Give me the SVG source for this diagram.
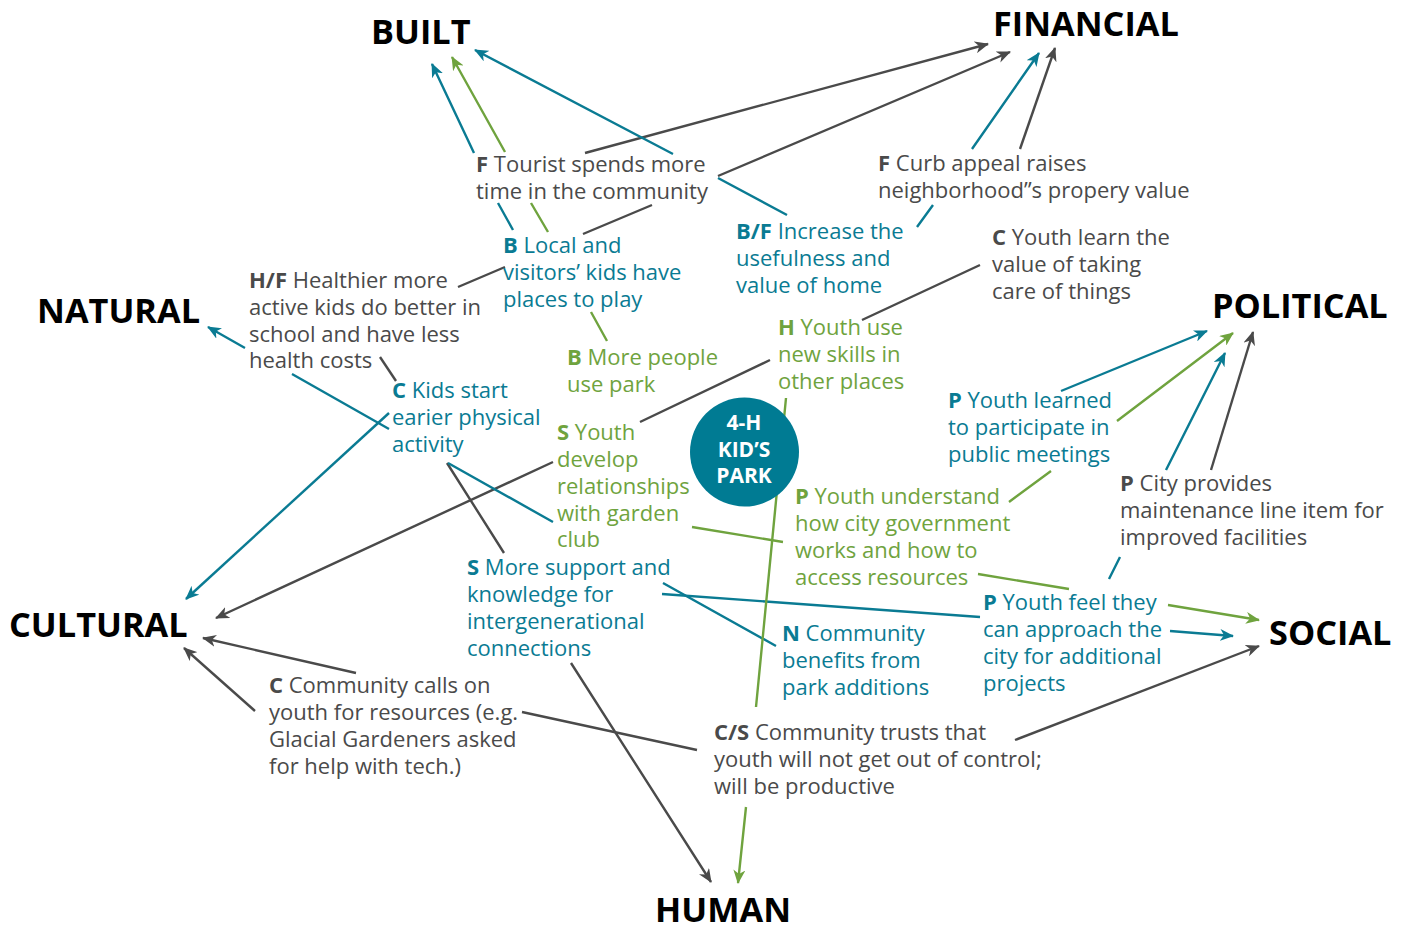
<svg xmlns="http://www.w3.org/2000/svg" width="1409" height="927" viewBox="0 0 1409 927">
<defs>
<marker id="ag" viewBox="0 0 14 12" refX="13" refY="6" markerWidth="14" markerHeight="12" markerUnits="userSpaceOnUse" orient="auto"><path d="M0,0 L14,6 L0,12 L4,6 z" fill="#4a4a4a"/></marker>
<marker id="at" viewBox="0 0 14 12" refX="13" refY="6" markerWidth="14" markerHeight="12" markerUnits="userSpaceOnUse" orient="auto"><path d="M0,0 L14,6 L0,12 L4,6 z" fill="#0a7b93"/></marker>
<marker id="an" viewBox="0 0 14 12" refX="13" refY="6" markerWidth="14" markerHeight="12" markerUnits="userSpaceOnUse" orient="auto"><path d="M0,0 L14,6 L0,12 L4,6 z" fill="#6fa33e"/></marker>
</defs>
<style>
text{font-family:"Open Sans","Noto Sans","Liberation Sans",sans-serif;font-size:22px}
.h{font-size:34.3px;font-weight:700;fill:#000}
.g{fill:#4a4a4a}.t{fill:#0a7b93}.n{fill:#6fa33e}
.b{font-weight:700}
.c{fill:none;stroke-width:2.4}
.cg{stroke:#4a4a4a}.ct{stroke:#0a7b93}.cn{stroke:#6fa33e}
.w{fill:#fff;font-weight:700;font-size:21px}
</style>
<rect width="1409" height="927" fill="#fff"/>
<g id="connectors">
<path class="c cg" marker-end="url(#ag)" d="M585,153 L988,44"/>
<path class="c cg" marker-end="url(#ag)" d="M458,287 L505,267 M583,234 L652,205 M718,176 L1010,52"/>
<path class="c cg" marker-end="url(#ag)" d="M1020,149 L1055,48"/>
<path class="c ct" marker-end="url(#at)" d="M917,227 L933,205 M972,149 L1039,53"/>
<path class="c cg" marker-end="url(#ag)" d="M980,265 L862,320 M770,360 L640,422 M553,462 L216,618"/>
<path class="c cg" marker-end="url(#ag)" d="M447,463 L504,553 M571,663 L711,882"/>
<path class="c cg" marker-end="url(#ag)" d="M697,750 L522,712 M356,673 L203,638"/>
<path class="c cg" marker-end="url(#ag)" d="M255,711 L184,648"/>
<path class="c cg" marker-end="url(#ag)" d="M1015,740 L1259,646"/>
<path class="c cg" marker-end="url(#ag)" d="M1211,470 L1253,332"/>
<path class="c ct" marker-end="url(#at)" d="M513,230 L498,203 M474,153 L432,64"/>
<path class="c cn" marker-end="url(#an)" d="M607,341 L591,312 M548,232 L531,203 M505,152 L452,57"/>
<path class="c ct" marker-end="url(#at)" d="M787,215 L718,178 M673,154 L475,50"/>
<path class="c ct" marker-end="url(#at)" d="M389,429 L292,374 M245,348 L208,327"/>
<path class="c cg" d="M380,357 L396,381"/>
<path class="c ct" marker-end="url(#at)" d="M389,413 L186,599"/>
<path class="c ct" d="M448,463 L553,522 M663,583 L776,646"/>
<path class="c ct" d="M662,594 L980,617"/>
<path class="c ct" marker-end="url(#at)" d="M1170,631 L1233,636"/>
<path class="c ct" marker-end="url(#at)" d="M1109,579 L1120,557 M1166,470 L1225,353"/>
<path class="c ct" marker-end="url(#at)" d="M1061,391 L1207,331"/>
<path class="c cn" marker-end="url(#an)" d="M1009,502 L1051,471 M1117,421 L1233,333"/>
<path class="c cn" marker-end="url(#an)" d="M692,527 L783,542 M978,574 L1069,589 M1168,605 L1259,620"/>
<path class="c cn" marker-end="url(#an)" d="M786,398 L756,707 M746,807 L738,883"/>
</g>
<g id="BUILT"><text class="h" x="371" y="44">BUILT</text></g>
<g id="FINANCIAL"><text class="h" x="993" y="36">FINANCIAL</text></g>
<g id="NATURAL"><text class="h" x="37" y="323">NATURAL</text></g>
<g id="POLITICAL"><text class="h" x="1212" y="318">POLITICAL</text></g>
<g id="CULTURAL"><text class="h" x="9" y="637">CULTURAL</text></g>
<g id="SOCIAL"><text class="h" x="1269" y="645">SOCIAL</text></g>
<g id="HUMAN"><text class="h" x="655" y="922">HUMAN</text></g>
<g id="park">
<circle cx="744.5" cy="452" r="54.5" fill="#007b93"/>
<text class="w" text-anchor="middle"><tspan x="744" y="430">4-H</tspan><tspan x="744" y="457">KID’S</tspan><tspan x="744" y="483">PARK</tspan></text>
</g>
<g id="tourist"><text class="g"><tspan x="476" y="172"><tspan class="b">F</tspan> Tourist spends more</tspan><tspan x="476" y="199">time in the community</tspan></text></g>
<g id="local"><text class="t"><tspan x="503" y="253"><tspan class="b">B</tspan> Local and</tspan><tspan x="503" y="280">visitors’ kids have</tspan><tspan x="503" y="307">places to play</tspan></text></g>
<g id="healthier"><text class="g"><tspan x="249" y="288"><tspan class="b">H/F</tspan> Healthier more</tspan><tspan x="249" y="315">active kids do better in</tspan><tspan x="249" y="342">school and have less</tspan><tspan x="249" y="368">health costs</tspan></text></g>
<g id="increase"><text class="t"><tspan x="736" y="239"><tspan class="b">B/F</tspan> Increase the</tspan><tspan x="736" y="266">usefulness and</tspan><tspan x="736" y="293">value of home</tspan></text></g>
<g id="curb"><text class="g"><tspan x="878" y="171"><tspan class="b">F</tspan> Curb appeal raises</tspan><tspan x="878" y="198">neighborhood”s propery value</tspan></text></g>
<g id="learn"><text class="g"><tspan x="992" y="245"><tspan class="b">C</tspan> Youth learn the</tspan><tspan x="992" y="272">value of taking</tspan><tspan x="992" y="299">care of things</tspan></text></g>
<g id="morepeople"><text class="n"><tspan x="567" y="365"><tspan class="b">B</tspan> More people</tspan><tspan x="567" y="392">use park</tspan></text></g>
<g id="skills"><text class="n"><tspan x="778" y="335"><tspan class="b">H</tspan> Youth use</tspan><tspan x="778" y="362">new skills in</tspan><tspan x="778" y="389">other places</tspan></text></g>
<g id="kids"><text class="t"><tspan x="392" y="398"><tspan class="b">C</tspan> Kids start</tspan><tspan x="392" y="425">earier physical</tspan><tspan x="392" y="452">activity</tspan></text></g>
<g id="relationships"><text class="n"><tspan x="557" y="440"><tspan class="b">S</tspan> Youth</tspan><tspan x="557" y="467">develop</tspan><tspan x="557" y="494">relationships</tspan><tspan x="557" y="521">with garden</tspan><tspan x="557" y="547">club</tspan></text></g>
<g id="meetings"><text class="t"><tspan x="948" y="408"><tspan class="b">P</tspan> Youth learned</tspan><tspan x="948" y="435">to participate in</tspan><tspan x="948" y="462">public meetings</tspan></text></g>
<g id="government"><text class="n"><tspan x="795" y="504"><tspan class="b">P</tspan> Youth understand</tspan><tspan x="795" y="531">how city government</tspan><tspan x="795" y="558">works and how to</tspan><tspan x="795" y="585">access resources</tspan></text></g>
<g id="city"><text class="g"><tspan x="1120" y="491"><tspan class="b">P</tspan> City provides</tspan><tspan x="1120" y="518">maintenance line item for</tspan><tspan x="1120" y="545">improved facilities</tspan></text></g>
<g id="support"><text class="t"><tspan x="467" y="575"><tspan class="b">S</tspan> More support and</tspan><tspan x="467" y="602">knowledge for</tspan><tspan x="467" y="629">intergenerational</tspan><tspan x="467" y="656">connections</tspan></text></g>
<g id="approach"><text class="t"><tspan x="983" y="610"><tspan class="b">P</tspan> Youth feel they</tspan><tspan x="983" y="637">can approach the</tspan><tspan x="983" y="664">city for additional</tspan><tspan x="983" y="691">projects</tspan></text></g>
<g id="benefits"><text class="t"><tspan x="782" y="641"><tspan class="b">N</tspan> Community</tspan><tspan x="782" y="668">benefits from</tspan><tspan x="782" y="695">park additions</tspan></text></g>
<g id="calls"><text class="g"><tspan x="269" y="693"><tspan class="b">C</tspan> Community calls on</tspan><tspan x="269" y="720">youth for resources (e.g.</tspan><tspan x="269" y="747">Glacial Gardeners asked</tspan><tspan x="269" y="774">for help with tech.)</tspan></text></g>
<g id="trusts"><text class="g"><tspan x="714" y="740"><tspan class="b">C/S</tspan> Community trusts that</tspan><tspan x="714" y="767">youth will not get out of control;</tspan><tspan x="714" y="794">will be productive</tspan></text></g>
</svg>
